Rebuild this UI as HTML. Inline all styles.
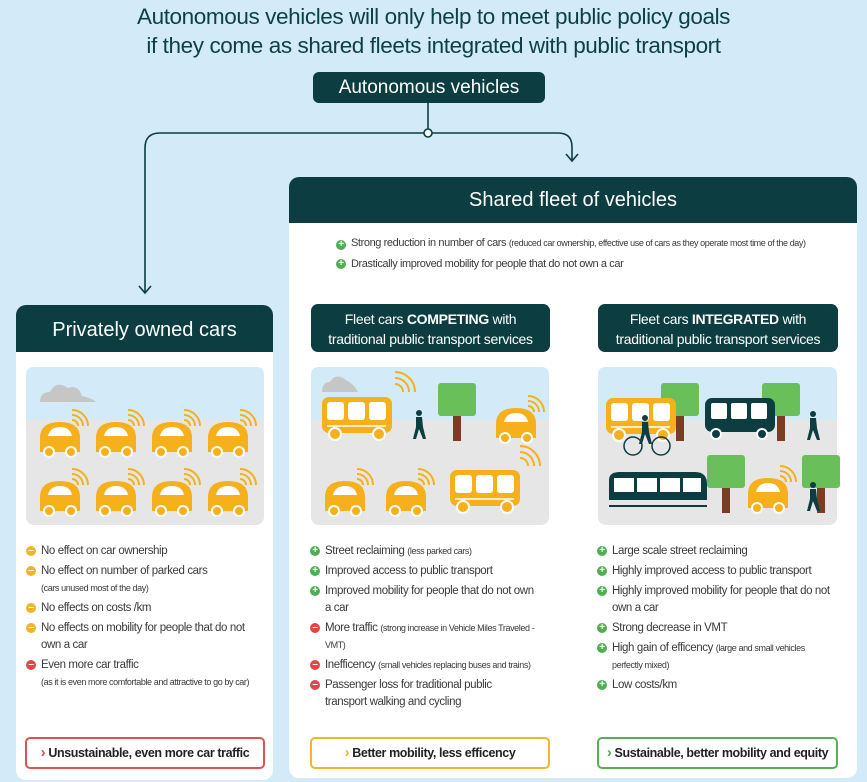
<!DOCTYPE html>
<html><head><meta charset="utf-8"><style>
*{margin:0;padding:0;box-sizing:border-box}
body{width:867px;height:782px;background:#d3ebf8;font-family:"Liberation Sans",sans-serif;position:relative;overflow:hidden;color:#3a3a3a}
.a{position:absolute}
.t{width:867px;text-align:center;color:#0d3f45;font-size:22.5px;line-height:30px;letter-spacing:-0.4px}
.dk{background:#0c3d40;color:#fff;text-align:center}
.panel{background:#fff;border-radius:10px}
ul{list-style:none}
li{position:relative;padding-left:15px;font-size:11.5px;line-height:17px;margin-bottom:3px;letter-spacing:-0.4px}
li small{font-size:9px}
li:before{content:"";position:absolute;left:0;top:3px;width:10px;height:10px;border-radius:50%}
li.p:before{background:#4fae4f}
li.o:before{background:#f0b42a}
li.m:before{background:#e04848}
li:after{position:absolute;left:0;top:2px;width:10px;text-align:center;color:#fff;font-size:10px;line-height:11px;font-weight:bold}
li.p:after{content:"+"}
li.o:after,li.m:after{content:"–"}
.ft{position:absolute;height:32px;border:2px solid;border-radius:5px;font-size:12.5px;font-weight:bold;color:#222;line-height:28px;text-align:center;letter-spacing:-0.4px}
.ft b{font-size:15px}
</style></head><body>
<div class="a t" style="top:2px">Autonomous vehicles will only help to meet public policy goals</div>
<div class="a t" style="top:31px">if they come as shared fleets integrated with public transport</div>
<div class="a dk" style="left:313px;top:72px;width:232px;height:31px;border-radius:6px;font-size:19px;line-height:31px">Autonomous vehicles</div>
<svg class="a" style="left:0;top:0" width="867" height="300">
<g fill="none" stroke="#0c3d40" stroke-width="1.6">
<line x1="428" y1="103" x2="428" y2="129"/>
<path d="M428 133 H160 Q145 133 145 148 V292"/>
<path d="M428 133 H558 Q572 133 572 147 V160"/>
<path d="M139 286 L145 293 L151 286"/>
<path d="M566 154 L572 161 L578 154"/>
<circle cx="428" cy="133" r="4" fill="#fff"/>
</g></svg>

<div class="a panel" style="left:16px;top:305px;width:257px;height:475px;overflow:hidden">
<div class="dk" style="height:47px;font-size:20px;line-height:50px">Privately owned cars</div>
</div>
<div class="a panel" style="left:289px;top:177px;width:568px;height:601px;overflow:hidden">
<div class="dk" style="height:46px;font-size:20px;line-height:47px">Shared fleet of vehicles</div>
</div>
<ul class="a" style="left:336px;top:237px;width:470px">
<li class="p" style="font-size:11px;line-height:13px">Strong reduction in number of cars <small>(reduced car ownership, effective use of cars as they operate most time of the day)</small></li>
<li class="p" style="margin-top:6px;font-size:11px">Drastically improved mobility for people that do not own a car</li>
</ul>
<div class="a dk" style="left:311px;top:304px;width:239px;height:48px;border-radius:7px;font-size:14px;line-height:20px;padding-top:5px;letter-spacing:-0.3px">Fleet cars <b>COMPETING</b> with<br>traditional public transport services</div>
<div class="a dk" style="left:598px;top:304px;width:240px;height:48px;border-radius:7px;font-size:14px;line-height:20px;padding-top:5px;letter-spacing:-0.3px">Fleet cars <b>INTEGRATED</b> with<br>traditional public transport services</div>

<svg class="a" style="left:0;top:0" width="867" height="782">
<defs>
<g id="car">
<path d="M-20 14 V0 Q-20 -16 0 -16 Q20 -16 20 0 V14 Z" fill="#f5b01c"/>
<circle cx="-11" cy="14" r="5" fill="#f5b01c" stroke="#fff" stroke-width="2"/>
<circle cx="11" cy="14" r="5" fill="#f5b01c" stroke="#fff" stroke-width="2"/>
<path d="M-12 -2 Q-10 -11 0 -11 Q10 -11 12 -2 Z" fill="#fff"/>
<path d="M12 -18 a6 6 0 0 1 6 6 M12 -23 a11 11 0 0 1 11 11 M12 -28 a16 16 0 0 1 16 16" stroke="#f5b01c" stroke-width="2" fill="none"/>
</g>
<g id="bus">
<rect x="0" y="0" width="70" height="36" rx="7" fill="#f5b01c"/>
<rect x="5" y="5" width="17" height="18" rx="3" fill="#fff"/><rect x="26" y="5" width="17" height="18" rx="3" fill="#fff"/><rect x="47" y="5" width="17" height="18" rx="3" fill="#fff"/>
<line x1="5" y1="29" x2="64" y2="29" stroke="#fff" stroke-width="1.5"/>
<circle cx="13" cy="37" r="6" fill="#f5b01c" stroke="#fff" stroke-width="2"/><circle cx="57" cy="37" r="6" fill="#f5b01c" stroke="#fff" stroke-width="2"/>
</g>
<g id="tree"><rect x="0" y="0" width="38" height="33" rx="3" fill="#69bf5a"/><rect x="15" y="33" width="8" height="25" fill="#7a3d24"/></g>
<g id="man" fill="#0c3d40"><circle cx="0" cy="0" r="3"/><path d="M-3 4 H3 L4 14 L7 26 H4 L0 16 L-3 26 H-6 L-3 14 Z"/></g>
</defs>
<rect x="26" y="367" width="238" height="158" rx="8" fill="#e6e6e6"/>
<path d="M26 420 V375 Q26 367 34 367 H256 Q264 367 264 375 V420 Z" fill="#d3ebf8"/>
<path d="M40 402 Q40 392 50 392 Q56 380 68 388 Q78 384 82 396 Q92 398 96 402 Z" fill="#c6c6c6"/>
<use href="#car" x="60" y="438"/><use href="#car" x="116" y="438"/><use href="#car" x="172" y="438"/><use href="#car" x="228" y="438"/>
<use href="#car" x="60" y="497"/><use href="#car" x="116" y="497"/><use href="#car" x="172" y="497"/><use href="#car" x="228" y="497"/>
<rect x="311" y="367" width="238" height="158" rx="8" fill="#e6e6e6"/>
<path d="M311 420 V375 Q311 367 319 367 H541 Q549 367 549 375 V420 Z" fill="#d3ebf8"/>
<path d="M322 392 Q322 382 330 382 Q336 372 346 380 Q354 384 358 392 Z" fill="#c6c6c6"/>
<use href="#bus" x="322" y="397"/>
<path d="M395 384 a8 8 0 0 1 8 8 M395 378 a14 14 0 0 1 14 14 M395 372 a20 20 0 0 1 20 20" stroke="#f5b01c" stroke-width="2" fill="none"/>
<use href="#man" x="419" y="413"/>
<use href="#tree" x="438" y="383"/>
<use href="#car" x="516" y="424"/>
<use href="#car" x="345" y="497"/><use href="#car" x="406" y="497"/>
<use href="#bus" x="450" y="470"/>
<path d="M520 458 a8 8 0 0 1 8 8 M520 452 a14 14 0 0 1 14 14 M520 446 a20 20 0 0 1 20 20" stroke="#f5b01c" stroke-width="2" fill="none"/>
<rect x="598" y="367" width="239" height="158" rx="8" fill="#e6e6e6"/>
<path d="M598 420 V375 Q598 367 606 367 H829 Q837 367 837 375 V420 Z" fill="#d3ebf8"/>
<use href="#tree" x="661" y="383"/><use href="#tree" x="762" y="383"/>
<use href="#bus" x="606" y="398"/>
<rect x="705" y="398" width="70" height="34" rx="7" fill="#0c3d40"/>
<rect x="711" y="403" width="16" height="16" rx="2" fill="#fff"/><rect x="731" y="403" width="16" height="16" rx="2" fill="#fff"/><rect x="751" y="403" width="16" height="16" rx="2" fill="#fff"/>
<circle cx="716" cy="434" r="5" fill="#0c3d40" stroke="#fff" stroke-width="2"/><circle cx="762" cy="434" r="5" fill="#0c3d40" stroke="#fff" stroke-width="2"/>
<use href="#man" x="813" y="414"/>
<circle cx="633" cy="446" r="9" fill="none" stroke="#0c3d40" stroke-width="1.5"/><circle cx="661" cy="446" r="9" fill="none" stroke="#0c3d40" stroke-width="1.5"/>
<use href="#man" x="645" y="418"/>
<use href="#tree" x="707" y="455"/><use href="#tree" x="802" y="455"/>
<path d="M609 500 V480 Q609 472 620 472 H695 Q707 472 707 484 V500 Z" fill="#0c3d40"/>
<rect x="614" y="478" width="20" height="14" fill="#fff"/><rect x="637" y="478" width="20" height="14" fill="#fff"/><rect x="660" y="478" width="20" height="14" fill="#fff"/><rect x="683" y="478" width="18" height="14" fill="#fff"/>
<line x1="609" y1="506" x2="707" y2="506" stroke="#0c3d40" stroke-width="2"/>
<use href="#car" x="768" y="494"/>
<use href="#man" x="813" y="485"/>
</svg>

<ul class="a" style="left:26px;top:543px;width:235px">
<li class="o">No effect on car ownership</li>
<li class="o">No effect on number of parked cars<br><small>(cars unused most of the day)</small></li>
<li class="o">No effects on costs /km</li>
<li class="o">No effects on mobility for people that do not own a car</li>
<li class="m">Even more car traffic<br><small>(as it is even more comfortable and attractive to go by car)</small></li>
</ul>
<ul class="a" style="left:310px;top:543px;width:225px">
<li class="p">Street reclaiming <small>(less parked cars)</small></li>
<li class="p">Improved access to public transport</li>
<li class="p">Improved mobility for people that do not own a car</li>
<li class="m">More traffic <small>(strong increase in Vehicle Miles Traveled - VMT)</small></li>
<li class="m">Inefficency <small>(small vehicles replacing buses and trains)</small></li>
<li class="m">Passenger loss for traditional public transport walking and cycling</li>
</ul>
<ul class="a" style="left:597px;top:543px;width:240px">
<li class="p">Large scale street reclaiming</li>
<li class="p">Highly improved access to public transport</li>
<li class="p">Highly improved mobility for people that do not own a car</li>
<li class="p">Strong decrease in VMT</li>
<li class="p">High gain of efficency <small>(large and small vehicles perfectly mixed)</small></li>
<li class="p">Low costs/km</li>
</ul>
<div class="ft" style="left:25px;top:737px;width:240px;border-color:#e05050"><b style="color:#e04848">›</b> Unsustainable, even more car traffic</div>
<div class="ft" style="left:310px;top:737px;width:240px;border-color:#f2b530"><b style="color:#f0b42a">›</b> Better mobility, less efficency</div>
<div class="ft" style="left:597px;top:737px;width:241px;border-color:#55b055"><b style="color:#4fae4f">›</b> Sustainable, better mobility and equity</div>
</body></html>
